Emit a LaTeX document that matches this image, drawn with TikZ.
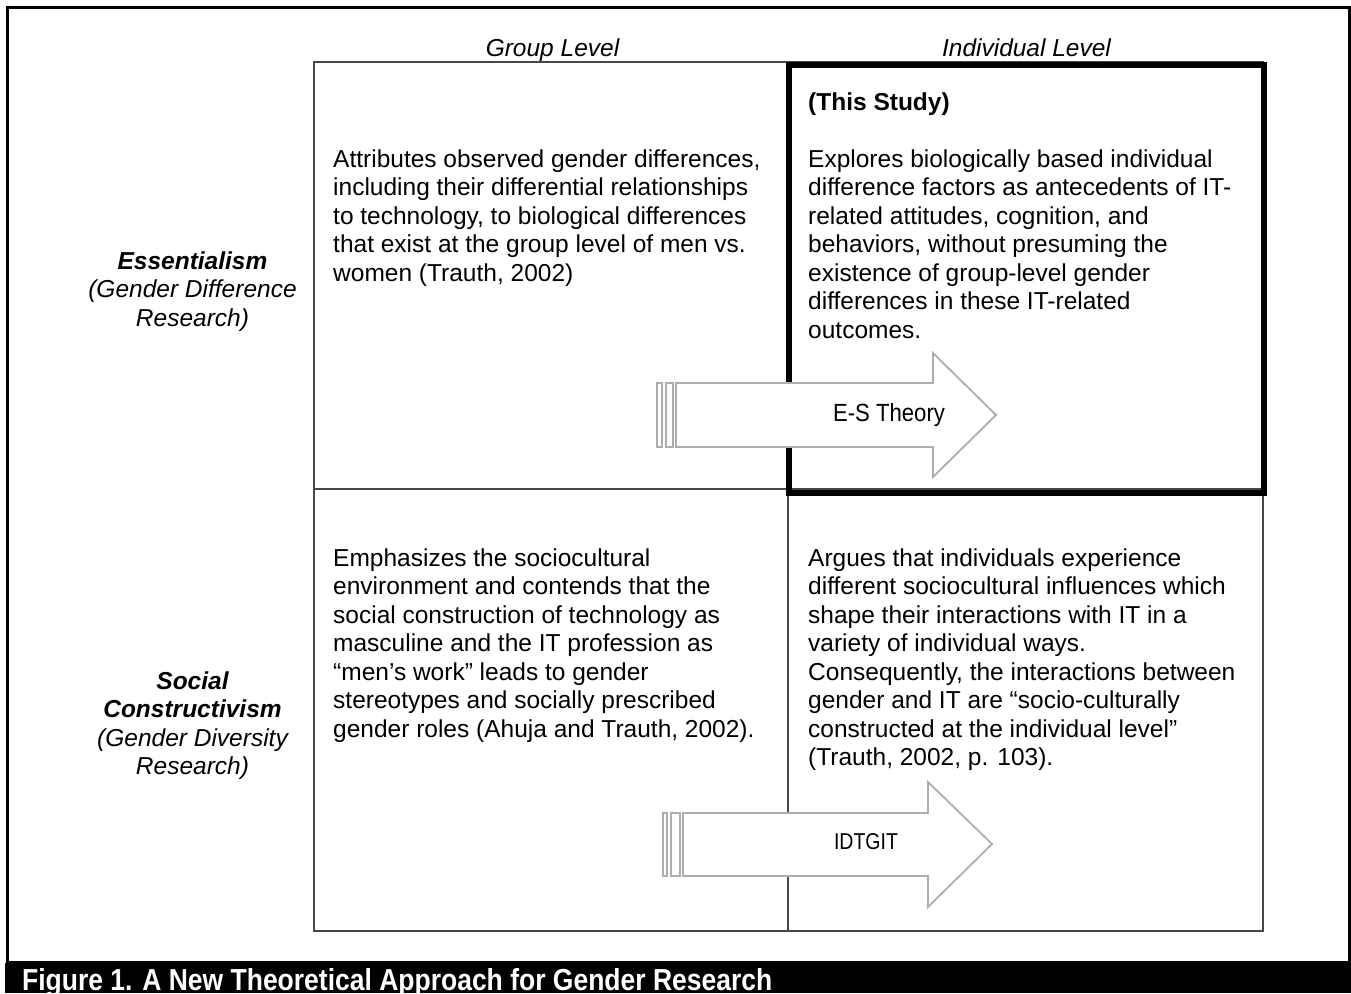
\documentclass[tikz,border=0pt]{standalone}
\usepackage{fontspec}
\setmainfont{Liberation Sans}
\usepackage{graphicx}
\newcommand\mystrut{\rule{0pt}{20pt}}
\begin{document}
\begin{tikzpicture}[x=1pt,y=-1pt,
  txt/.style={font=\fontsize{24.5}{28.5}\selectfont, inner sep=0pt, align=left, anchor=north west},
  lbl/.style={font=\fontsize{24.5}{28.5}\selectfont\itshape, inner sep=0pt, align=center, anchor=north},
  head/.style={font=\fontsize{24.5}{28.5}\selectfont\itshape, inner sep=0pt, anchor=base},
  gridline/.style={draw=black!72, line width=1.5pt},
  arrowshape/.style={draw=black!32, fill=white, line width=1.8pt, line join=miter},
  arrowlabel/.style={inner sep=0pt, anchor=base},
]
\useasboundingbox (0,0) rectangle (1351,993);
% outer frame and caption bar
\draw[line width=3.3pt] (7.5,7.5) rectangle (1349.5,963);
\fill[black] (5,963) rectangle (1351,993);
% grid
\draw[gridline] (314,62) rectangle (1263,931);
\draw[gridline] (788,62) -- (788,931);
\draw[gridline] (314,489) -- (1263,489);
% this study box
\draw[line width=6pt] (789,65) rectangle (1264,493);

% column headings
\node[head] (gl) at (552.5,56) {Group Level};
\node[head] (il) at (1026.5,56) {Individual Level};

% row labels
\node[lbl] (ess) at (192.5,249) {\mystrut\bfseries Essentialism\\(Gender Difference\\Research)};
\node[lbl] (soc) at (192.5,669) {\mystrut\bfseries Social\\\bfseries Constructivism\\(Gender Diversity\\Research)};

% cell texts
\node[txt] (tl) at (333,147) {\mystrut Attributes observed gender differences,\\including their differential relationships\\to technology, to biological differences\\that exist at the group level of men vs.\\women (Trauth, 2002)};

\node[txt] (tstudy) at (808,90) {\mystrut\bfseries (This Study)};
\node[txt] (tr) at (808,147) {\mystrut Explores biologically based individual\\difference factors as antecedents of IT-\\related attitudes, cognition, and\\behaviors, without presuming the\\existence of group-level gender\\differences in these IT-related\\outcomes.};

\node[txt] (bl) at (333,546) {\mystrut Emphasizes the sociocultural\\environment and contends that the\\social construction of technology as\\masculine and the IT profession as\\“men’s work” leads to gender\\stereotypes and socially prescribed\\gender roles (Ahuja and Trauth, 2002).};

\node[txt] (br) at (808,546) {\mystrut Argues that individuals experience\\different sociocultural influences which\\shape their interactions with IT in a\\variety of individual ways.\\Consequently, the interactions between\\gender and IT are “socio-culturally\\constructed at the individual level”\\(Trauth, 2002, p. 103).};

% E-S Theory arrow
\draw[arrowshape] (657,383) rectangle (662,447);
\draw[arrowshape] (666,383) rectangle (673,447);
\draw[arrowshape] (676,383) -- (933,383) -- (933,353) -- (996,415) -- (933,477) -- (933,447) -- (676,447) -- cycle;
\node[arrowlabel] (es) at (889,421) {\resizebox{112pt}{18pt}{E-S Theory}};

% IDTGIT arrow
\draw[arrowshape] (663,813) rectangle (667,876);
\draw[arrowshape] (671,813) rectangle (680,876);
\draw[arrowshape] (683,813) -- (928,813) -- (928,782) -- (992,844) -- (928,907) -- (928,876) -- (683,876) -- cycle;
\node[arrowlabel] (idt) at (866,849) {\resizebox{64pt}{16pt}{IDTGIT}};

% caption
\node[inner sep=0pt, anchor=base west, text=white] (cap) at (22,990) {\resizebox{750pt}{22pt}{\bfseries Figure 1. A New Theoretical Approach for Gender Research}};
\end{tikzpicture}
\end{document}
